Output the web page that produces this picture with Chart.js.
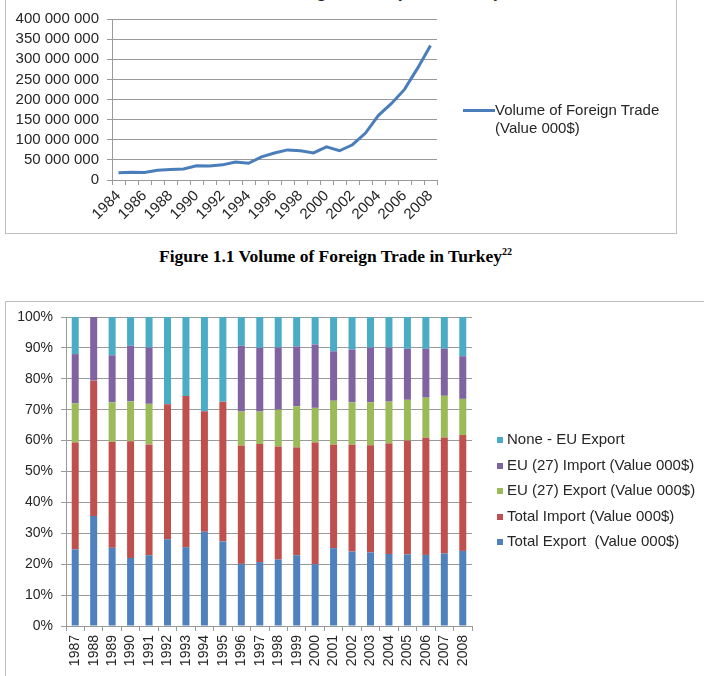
<!DOCTYPE html>
<html>
<head>
<meta charset="utf-8">
<script src="https://cdn.jsdelivr.net/npm/chart.js@4.4.1/dist/chart.umd.min.js"></script>
<style>
    body { margin: 0; width: 704px; height: 676px; overflow: hidden; background: #fff; position: relative; font-family: "Liberation Sans", Arial, sans-serif; color: #262626; }
    .box { position: absolute; box-sizing: border-box; border: 1px solid #bfbfbf; }
    canvas { position: absolute; left: 0; }
    .title1 { position: absolute; left: 5px; width: 671px; top: -19px; text-align: center; font-weight: bold; font-size: 18px; line-height: 20px; }
    .leg1 { position: absolute; left: 495px; top: 101px; font-size: 15px; line-height: 18px; }
    .leg1-line { position: absolute; left: 463px; top: 109px; width: 32px; height: 3px; background: #4a7ebb; }
    .caption { position: absolute; left: 159px; top: 242px; font-family: "Liberation Serif", "Times New Roman", serif; font-weight: bold; font-size: 17.5px; line-height: 20px; color: #000; }
    .caption sup { font-size: 10px; }
    .leg2 { position: absolute; left: 497px; top: 426px; font-size: 15px; }
    .leg2 div { height: 25.6px; line-height: 25.6px; white-space: pre; }
    .leg2 span { display: inline-block; width: 6px; height: 6px; margin-right: 4px; vertical-align: 1px; }
</style>
</head>
<body>
<div class="box" style="left:5px;top:-40px;width:672px;height:274px"></div>
<div class="title1">Volume of Foreign Trade (Value 000$)</div>
<canvas id="trade-chart" width="680" height="240" style="top:0"></canvas>
<div class="leg1-line"></div>
<div class="leg1" id="leg1"></div>

<div class="caption">Figure 1.1 Volume of Foreign Trade in Turkey<sup>22</sup></div>

<div class="box" style="left:5px;top:301px;width:720px;height:400px"></div>
<canvas id="share-chart" width="704" height="376" style="top:300px"></canvas>
<div class="leg2" id="leg2"></div>

<script>
// line chart data (value 000$)
const tradeYears = ['1984', '1985', '1986', '1987', '1988', '1989', '1990', '1991', '1992', '1993', '1994', '1995', '1996',
    '1997', '1998', '1999', '2000', '2001', '2002', '2003', '2004', '2005', '2006', '2007', '2008'];
const tradeVolume = [17900000, 19300000, 18600000, 24300000, 26000000, 27400000, 35300000, 34600000, 37600000, 44800000,
    41400000, 57300000, 66900000, 74800000, 72900000, 67300000, 82300000, 72700000, 87600000, 116600000,
    160700000, 190300000, 225100000, 277300000, 334000000];
const tradeTicks = [0, 50000000, 100000000, 150000000, 200000000, 250000000, 300000000, 350000000, 400000000];

// 100% stacked chart data (share in %)
const shareYears = ['1987', '1988', '1989', '1990', '1991', '1992', '1993', '1994', '1995', '1996', '1997', '1998',
    '1999', '2000', '2001', '2002', '2003', '2004', '2005', '2006', '2007', '2008'];
const totalExport = [24.8, 35.6, 25.3, 22.0, 22.9, 28.1, 25.5, 30.5, 27.4, 20.1, 20.7, 21.5, 22.9, 20.0, 25.2, 24.1, 23.8, 23.3, 23.2, 23.0, 23.5, 24.3];
const totalImport = [34.6, 43.8, 34.3, 37.8, 35.8, 43.7, 48.9, 39.0, 45.2, 38.3, 38.2, 36.6, 34.9, 39.4, 33.5, 34.6, 34.7, 35.8, 36.8, 37.9, 37.5, 37.5];
const euExport = [12.7, 0, 12.8, 12.9, 13.2, 0, 0, 0, 0, 11.0, 10.5, 11.9, 13.3, 11.2, 14.2, 13.7, 13.9, 13.5, 13.2, 13.0, 13.5, 11.7];
const euImport = [15.9, 20.6, 15.2, 18.0, 18.2, 0, 0, 0, 0, 21.3, 20.6, 20.1, 19.4, 20.5, 16.0, 17.1, 17.7, 17.5, 16.5, 15.8, 15.2, 13.8];
const noneEuExport = [12.0, 0, 12.4, 9.3, 9.9, 28.2, 25.6, 30.5, 27.4, 9.3, 10.0, 9.9, 9.5, 8.9, 11.1, 10.5, 9.9, 9.9, 10.3, 10.3, 10.3, 12.7];
const shareTicks = [0, 10, 20, 30, 40, 50, 60, 70, 80, 90, 100];

Chart.defaults.font.family = '"Liberation Sans", Arial, sans-serif';
Chart.defaults.color = '#262626';
Chart.defaults.animation = false;

const gridColor = '#9a9a9a';

new Chart(document.getElementById('trade-chart'), {
    type: 'line',
    data: {
        labels: tradeYears,
        datasets: [{
            label: 'Volume of Foreign Trade (Value 000$)',
            data: tradeVolume,
            borderColor: '#4a7ebb',
            borderWidth: 3,
            pointRadius: 0,
            tension: 0
        }]
    },
    options: {
        responsive: false,
        layout: { padding: { top: 19, left: 0, right: 243, bottom: 0 } },
        plugins: { legend: { display: false }, tooltip: { enabled: false } },
        scales: {
            x: {
                offset: true,
                grid: { offset: true, drawOnChartArea: false, color: gridColor, tickLength: 5 },
                border: { color: gridColor },
                ticks: {
                    autoSkip: false, minRotation: 45, maxRotation: 45, padding: 2,
                    font: { size: 15 },
                    callback: (v, i) => i % 2 === 0 ? tradeYears[i] : ''
                },
                afterFit: s => { s.height = 60; }
            },
            y: {
                min: 0, max: 400000000,
                afterBuildTicks: s => { s.ticks = tradeTicks.map(v => ({ value: v })); },
                ticks: {
                    autoSkip: false, padding: 8, font: { size: 15 },
                    callback: v => String(v).replace(/\B(?=(\d{3})+(?!\d))/g, ' ')
                },
                grid: { color: gridColor, tickLength: 5 },
                border: { color: gridColor },
                afterFit: s => { s.width = 112; }
            }
        }
    }
});

document.getElementById('leg1').innerHTML = 'Volume of Foreign Trade<br>(Value 000$)';

const shareSeries = [
    { label: 'Total Export  (Value 000$)', data: totalExport, color: '#4f81bd' },
    { label: 'Total Import (Value 000$)', data: totalImport, color: '#c0504d' },
    { label: 'EU (27) Export (Value 000$)', data: euExport, color: '#9bbb59' },
    { label: 'EU (27) Import (Value 000$)', data: euImport, color: '#8064a2' },
    { label: 'None - EU Export', data: noneEuExport, color: '#4bacc6' }
];

new Chart(document.getElementById('share-chart'), {
    type: 'bar',
    data: {
        labels: shareYears,
        datasets: shareSeries.map(s => ({
            label: s.label,
            data: s.data,
            backgroundColor: s.color,
            borderWidth: 0,
            categoryPercentage: 1,
            barPercentage: 0.38
        }))
    },
    options: {
        responsive: false,
        layout: { padding: { top: 17, left: 0, right: 232, bottom: 0 } },
        plugins: { legend: { display: false }, tooltip: { enabled: false } },
        scales: {
            x: {
                stacked: true,
                grid: { offset: true, drawOnChartArea: false, color: gridColor, tickLength: 5 },
                border: { color: gridColor },
                ticks: { autoSkip: false, minRotation: 90, maxRotation: 90, padding: 4, font: { size: 14 } },
                afterFit: s => { s.height = 50; }
            },
            y: {
                stacked: true,
                min: 0, max: 100,
                afterBuildTicks: s => { s.ticks = shareTicks.map(v => ({ value: v })); },
                ticks: { autoSkip: false, padding: 8, font: { size: 14 }, callback: v => v + '%' },
                grid: { color: gridColor, tickLength: 5 },
                border: { color: gridColor },
                afterFit: s => { s.width = 66; }
            }
        }
    }
});

document.getElementById('leg2').innerHTML = shareSeries.slice().reverse()
    .map(s => '<div><span style="background:' + s.color + '"></span>' + s.label + '</div>').join('');
</script>
</body>
</html>
